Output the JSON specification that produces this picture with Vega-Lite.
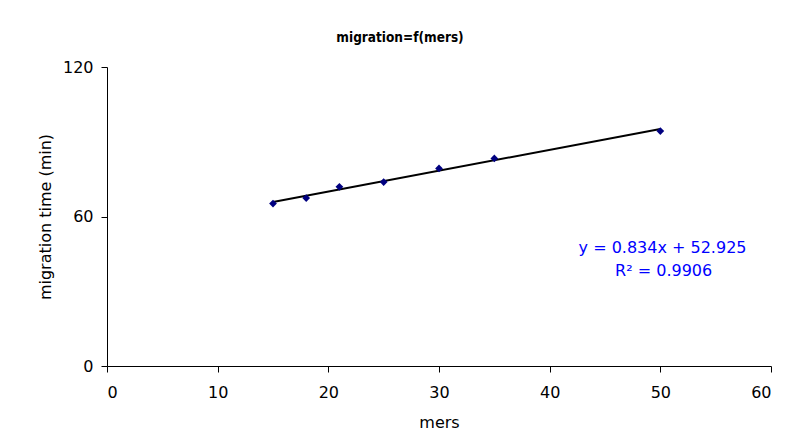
{
  "$schema": "https://vega.github.io/schema/vega-lite/v6.json",
  "autosize": {"type": "none"},
  "width": 664,
  "height": 299,
  "padding": {"left": 107, "top": 67, "right": 22, "bottom": 76},
  "background": "white",
  "title": {
    "text": "migration=f(mers)",
    "font": "DejaVu Sans Condensed",
    "fontSize": 13.5,
    "fontWeight": "bold",
    "color": "black",
    "anchor": "middle",
    "frame": "group",
    "dx": -39,
    "offset": 15
  },
  "config": {
    "view": {"stroke": null},
    "axis": {
      "labelFont": "DejaVu Sans",
      "titleFont": "DejaVu Sans",
      "labelFontSize": 16,
      "titleFontSize": 16,
      "titleFontWeight": "normal",
      "labelColor": "black",
      "titleColor": "black",
      "domainColor": "black",
      "tickColor": "black",
      "grid": false,
      "tickSize": 6
    }
  },
  "data": {
    "values": [
      {"mers": 15, "time": 65.2},
      {"mers": 18, "time": 67.4},
      {"mers": 21, "time": 71.9},
      {"mers": 25, "time": 73.8},
      {"mers": 30, "time": 79.3},
      {"mers": 35, "time": 83.3},
      {"mers": 50, "time": 94.3}
    ]
  },
  "layer": [
    {
      "transform": [{"regression": "time", "on": "mers"}],
      "mark": {"type": "line", "color": "black", "strokeWidth": 2},
      "encoding": {
        "x": {"field": "mers", "type": "quantitative"},
        "y": {"field": "time", "type": "quantitative"}
      }
    },
    {
      "mark": {"type": "point", "shape": "diamond", "filled": true, "color": "#000080", "size": 60, "opacity": 1},
      "encoding": {
        "x": {
          "field": "mers", "type": "quantitative",
          "scale": {"domain": [0, 60], "nice": false},
          "axis": {"values": [0, 10, 20, 30, 40, 50, 60], "title": "mers", "titlePadding": 14, "labelPadding": 12}
        },
        "y": {
          "field": "time", "type": "quantitative",
          "scale": {"domain": [0, 120], "nice": false},
          "axis": {"values": [0, 60, 120], "title": "migration time (min)", "titlePadding": 9, "labelPadding": 8}
        }
      }
    },
    {
      "data": {"values": [
        {"label": "y = 0.834x + 52.925", "mers": 50.2, "time": 47.2},
        {"label": "R² = 0.9906", "mers": 50.3, "time": 38.0}
      ]},
      "mark": {"type": "text", "font": "DejaVu Sans", "fontSize": 16, "color": "#0000FF", "align": "center", "baseline": "middle"},
      "encoding": {
        "x": {"field": "mers", "type": "quantitative"},
        "y": {"field": "time", "type": "quantitative"},
        "text": {"field": "label"}
      }
    }
  ]
}
